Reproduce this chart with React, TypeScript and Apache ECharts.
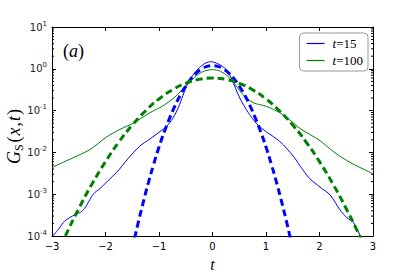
import React, { useEffect, useRef } from "react";
import * as echarts from "echarts";

const xTicks = [-3, -2, -1, 0, 1, 2, 3];
const yMin = 1e-4;
const yMax = 10;

// t = 15, measured (solid blue)
const blueSolidT = [-3.0, -2.88, -2.76, -2.57, -2.44, -2.35, -2.23, -2.1, -1.86, -1.79, -1.58, -1.36, -1.17, -0.98, -0.86, -0.74, -0.64, -0.55, -0.46, -0.36, -0.2, -0.04, 0.1, 0.26, 0.36, 0.51, 0.67, 0.83, 1.01, 1.26, 1.51, 1.64, 1.82, 2.01, 2.2, 2.38, 2.51, 2.63, 2.78];
const blueSolidG = [0.000095, 0.000145, 0.000229, 0.000324, 0.000389, 0.00055, 0.001, 0.00138, 0.00275, 0.00331, 0.00708, 0.0141, 0.0209, 0.0316, 0.0417, 0.0661, 0.117, 0.234, 0.447, 0.724, 1.2, 1.48, 1.32, 0.955, 0.562, 0.2, 0.0891, 0.0479, 0.0309, 0.0182, 0.00813, 0.00468, 0.00234, 0.00148, 0.000955, 0.000427, 0.000275, 0.000214, 0.000089];

// t = 100, measured (solid green)
const greenSolidT = [-3.0, -2.61, -2.29, -1.98, -1.73, -1.48, -1.17, -0.93, -0.68, -0.46, -0.2, 0, 0.15, 0.33, 0.57, 0.76, 1.01, 1.26, 1.45, 1.64, 2.01, 2.2, 2.38, 2.63, 3.0];
const greenSolidG = [0.00437, 0.00741, 0.0117, 0.0234, 0.0355, 0.0501, 0.0891, 0.129, 0.224, 0.447, 0.832, 0.955, 0.871, 0.589, 0.24, 0.155, 0.126, 0.0891, 0.0589, 0.0372, 0.0191, 0.012, 0.00813, 0.00525, 0.00309];

// Gaussian fits (dashed)
const blueDashT = [-1.5, -1.4, -1.3, -1.2, -1.1, -1.0, -0.9, -0.8, -0.7, -0.6, -0.5, -0.4, -0.3, -0.2, -0.1, 0, 0.1, 0.2, 0.3, 0.4, 0.5, 0.6, 0.7, 0.8, 0.9, 1.0, 1.1, 1.2, 1.3, 1.4, 1.5];
const blueDashG = [0.000049, 0.00018, 0.0006, 0.00185, 0.0052, 0.0134, 0.0314, 0.067, 0.132, 0.237, 0.388, 0.581, 0.795, 0.995, 1.139, 1.19, 1.139, 0.995, 0.795, 0.581, 0.388, 0.237, 0.132, 0.067, 0.0314, 0.0134, 0.0052, 0.00185, 0.0006, 0.00018, 0.000049];

const greenDashT = [-3.0, -2.75, -2.5, -2.25, -2.0, -1.75, -1.5, -1.25, -1.0, -0.75, -0.5, -0.25, 0, 0.25, 0.5, 0.75, 1.0, 1.25, 1.5, 1.75, 2.0, 2.25, 2.5, 2.75, 3.0];
const greenDashG = [0.000019, 0.0001, 0.00045, 0.00177, 0.006, 0.0177, 0.045, 0.0993, 0.19, 0.314, 0.45, 0.558, 0.6, 0.558, 0.45, 0.314, 0.19, 0.0993, 0.045, 0.0177, 0.006, 0.00177, 0.00045, 0.0001, 0.000019];

const legendNames = ["t = 15", "t = 100"];

const BLUE = "#0000ff";
const GREEN = "#008000";
const SERIF = "'Liberation Serif', 'DejaVu Serif', serif";
const SANS = "'DejaVu Sans', sans-serif";

function zip(t: number[], g: number[]) {
  return t.map((v, i) => [v, g[i]]);
}

export default function App() {
  const ref = useRef<HTMLDivElement>(null);
  useEffect(() => {
    const chart = echarts.init(ref.current!, null, { renderer: "svg" });
    const minorVals: number[][] = [];
    for (let e = -4; e <= 0; e++) {
      for (let m = 2; m <= 9; m++) minorVals.push([-3, m * Math.pow(10, e)]);
    }
    const yLabel = (v: number) => {
      const e = Math.round(Math.log10(v));
      return "{b|10}{s|" + (e < 0 ? "-" + -e : "" + e) + "}";
    };
    const xLabel = (v: number) => (v < 0 ? "\u2212" + -v : "" + v);
    const tick = { show: true, inside: true, length: 4, lineStyle: { color: "#000", width: 1 } };
    const line = { show: true, onZero: false, lineStyle: { color: "#000", width: 1 } };
    const option: any = {
      animation: false,
      backgroundColor: "#fff",
      grid: { left: 52, right: 42, top: 27, bottom: 35, containLabel: false },
      xAxis: [
        {
          type: "value", min: xTicks[0], max: xTicks[xTicks.length - 1], interval: 1, position: "bottom",
          axisLine: line, axisTick: tick, splitLine: { show: false },
          axisLabel: { formatter: xLabel, fontFamily: SANS, fontSize: 10, color: "#000", margin: 5 },
          name: "t", nameLocation: "middle", nameGap: 20,
          nameTextStyle: { fontFamily: SERIF, fontStyle: "italic", fontSize: 16, color: "#000" },
        },
        {
          type: "value", min: xTicks[0], max: xTicks[xTicks.length - 1], interval: 1, position: "top",
          axisLine: line, axisTick: tick, splitLine: { show: false }, axisLabel: { show: false },
        },
      ],
      yAxis: [
        {
          type: "log", logBase: 10, min: yMin, max: yMax, position: "left",
          axisLine: line, axisTick: tick, splitLine: { show: false },
          axisLabel: {
            formatter: yLabel, color: "#000", margin: 5,
            rich: {
              b: { fontFamily: SANS, fontSize: 10, color: "#222" },
              s: { fontFamily: SANS, fontSize: 7, color: "#222", padding: [0, 0, 7, 0] },
            },
          },
        },
        {
          type: "log", logBase: 10, min: yMin, max: yMax, position: "right",
          axisLine: line, axisTick: tick, splitLine: { show: false }, axisLabel: { show: false },
        },
      ],
      legend: {
        data: legendNames,
        orient: "vertical",
        right: 47,
        top: 33,
        padding: [3, 5, 3, 7],
        itemGap: 2,
        itemWidth: 18,
        itemHeight: 1.2,
        icon: "rect",
        backgroundColor: "#fff",
        borderColor: "#999",
        borderWidth: 1,
        borderRadius: 4,
        textStyle: {
          padding: [0, 0, 0, 3],
          lineHeight: 15,
          rich: {
            i: { fontFamily: SERIF, fontStyle: "italic", fontSize: 13, color: "#000" },
            r: { fontFamily: SERIF, fontSize: 13, color: "#000" },
          },
        },
        formatter: (name: string) => "{i|t}{r|" + name.slice(1).replace(/ /g, "") + "}",
      },
      graphic: [
        {
          type: "text", left: 63, top: 42,
          style: {
            text: "{r|(}{i|a}{r|)}",
            rich: {
              i: { fontFamily: SERIF, fontStyle: "italic", fontSize: 18, fill: "#000" },
              r: { fontFamily: SERIF, fontSize: 18, fill: "#000" },
            },
          },
        },
        {
          type: "text", x: 14, y: 136, rotation: Math.PI / 2,
          style: {
            text: "{i|G}{s|S}{r|(}{i|x}{r|,}{i|t}{r|)}",
            align: "center", verticalAlign: "middle",
            rich: {
              i: { fontFamily: SERIF, fontStyle: "italic", fontSize: 18, fill: "#000" },
              r: { fontFamily: SERIF, fontSize: 18, fill: "#000", padding: [0, 1, 0, 1] },
              s: { fontFamily: SERIF, fontSize: 12, fill: "#000", padding: [9, 1, 0, 0] },
            },
          },
        },
      ],
      series: [
        {
          name: "t = 15", type: "line", data: zip(blueSolidT, blueSolidG), smooth: 0.3,
          showSymbol: false, symbol: "none", color: BLUE, lineStyle: { color: BLUE, width: 1 }, clip: true, z: 2,
        },
        {
          name: "t = 100", type: "line", data: zip(greenSolidT, greenSolidG), smooth: 0.3,
          showSymbol: false, symbol: "none", color: GREEN, lineStyle: { color: GREEN, width: 1 }, clip: true, z: 2,
        },
        {
          name: "blue fit", type: "line", data: zip(blueDashT, blueDashG), smooth: true,
          showSymbol: false, symbol: "none", color: BLUE, lineStyle: { color: BLUE, width: 3, type: [7, 4] }, clip: true, z: 3,
        },
        {
          name: "green fit", type: "line", data: zip(greenDashT, greenDashG), smooth: true,
          showSymbol: false, symbol: "none", color: GREEN, lineStyle: { color: GREEN, width: 3, type: [7, 4] }, clip: true, z: 3,
        },
        {
          name: "minor", type: "custom", silent: true, clip: false, data: minorVals,
          renderItem: (_p: any, api: any) => {
            const v = api.value(1);
            const l = api.coord([-3, v]);
            const r = api.coord([3, v]);
            return {
              type: "group",
              children: [
                { type: "line", shape: { x1: l[0], y1: l[1], x2: l[0] + 2, y2: l[1] }, style: { stroke: "#000", lineWidth: 1 } },
                { type: "line", shape: { x1: r[0], y1: r[1], x2: r[0] - 2, y2: r[1] }, style: { stroke: "#000", lineWidth: 1 } },
              ],
            };
          },
        },
      ],
    };
    chart.setOption(option);
    return () => chart.dispose();
  }, []);
  return <div ref={ref} style={{ position: "absolute", left: 0, top: 0, width: 415, height: 277 }} />;
}
